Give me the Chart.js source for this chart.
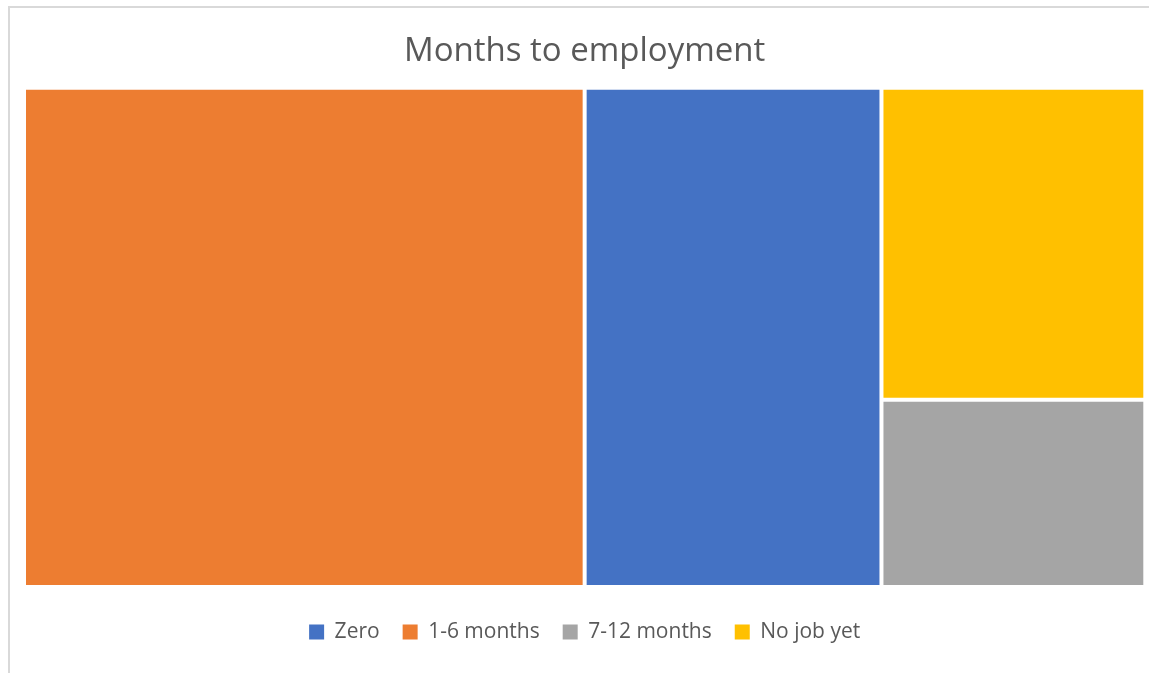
<!DOCTYPE html>
<html>
<head>
<meta charset="utf-8">
<script src="https://cdn.jsdelivr.net/npm/chart.js@4.4.1/dist/chart.umd.min.js"></script>
<style>
  html, body { margin: 0; padding: 0; background: #ffffff; overflow: hidden; }
  #wrap { position: relative; width: 1149px; height: 673px; }
</style>
</head>
<body>
<div id="wrap"><canvas id="c"></canvas></div>
<script>
// ---- data ----
const chartTitle = 'Months to employment';
const categories = ['Zero', '1-6 months', '7-12 months', 'No job yet'];
const values = [9, 17, 3, 5];
const colors = ['#4472C4', '#ED7D31', '#A5A5A5', '#FFC000'];

// ---- squarified treemap layout (in pixel space given by the scales) ----
function squarify(vals, rect) {
  const order = vals.map((v, i) => i).filter(i => vals[i] > 0).sort((a, b) => vals[b] - vals[a]);
  const total = order.reduce((s, i) => s + vals[i], 0);
  const k = rect.w * rect.h / total;
  const out = {};
  let { x, y, w, h } = rect;
  let rest = order.slice();
  function worst(row, side) {
    const s = row.reduce((a, i) => a + vals[i] * k, 0);
    const len = s / side;
    let m = 0;
    for (const i of row) {
      const other = vals[i] * k / len;
      m = Math.max(m, len / other, other / len);
    }
    return m;
  }
  while (rest.length) {
    const side = Math.min(w, h);
    const row = [rest[0]];
    let n = 1;
    while (n < rest.length && worst(row.concat(rest[n]), side) <= worst(row, side)) { row.push(rest[n]); n++; }
    rest = rest.slice(n);
    const s = row.reduce((a, i) => a + vals[i] * k, 0);
    if (w >= h) {
      const sw = s / h; let cy = y;
      for (const i of row) { const ih = vals[i] * k / sw; out[i] = { x0: x, x1: x + sw, y0: cy, y1: cy + ih }; cy += ih; }
      x += sw; w -= sw;
    } else {
      const sh = s / w; let cx = x;
      for (const i of row) { const iw = vals[i] * k / sh; out[i] = { x0: cx, x1: cx + iw, y0: y, y1: y + sh }; cx += iw; }
      y += sh; h -= sh;
    }
  }
  return out;
}

class TreemapCellController extends Chart.DatasetController {
  update(mode) {
    const meta = this._cachedMeta;
    this.updateElements(meta.data, 0, meta.data.length, mode);
  }
  updateElements(els, start, count, mode) {
    const meta = this._cachedMeta;
    const xs = meta.xScale, ys = meta.yScale;
    const left = xs.getPixelForValue(0), right = xs.getPixelForValue(1);
    const top = ys.getPixelForValue(1), bottom = ys.getPixelForValue(0);
    const vals = this.chart.data.datasets.map(d => d.data[0]);
    const rects = squarify(vals, { x: left, y: top, w: right - left, h: bottom - top });
    for (let i = start; i < start + count; i++) {
      const r = rects[this.index];
      if (!r) continue;
      const props = {
        x: (r.x0 + r.x1) / 2, y: r.y0, base: r.y1,
        width: r.x1 - r.x0, height: r.y1 - r.y0,
        horizontal: false, borderSkipped: {}, inflateAmount: 0, enableBorderRadius: false,
        options: this.resolveDataElementOptions(i, mode)
      };
      this.updateElement(els[i], i, props, mode);
    }
  }
}
TreemapCellController.id = 'treemapCell';
TreemapCellController.defaults = { datasetElementType: false, dataElementType: 'bar' };
Chart.register(TreemapCellController);

const framePlugin = {
  id: 'frame',
  beforeDraw(chart) {
    const ctx = chart.ctx;
    ctx.save();
    ctx.strokeStyle = '#d9d9d9';
    ctx.lineWidth = 2;
    ctx.strokeRect(9, 7, 1400, 1000);
    ctx.restore();
  }
};

const datasets = categories.map((c, i) => ({
  label: c,
  data: [values[i]],
  backgroundColor: colors[i],
  borderColor: '#ffffff',
  borderWidth: 2,
  borderSkipped: false,
  inflateAmount: 0
}));

new Chart(document.getElementById('c'), {
  type: 'treemapCell',
  data: { datasets },
  plugins: [framePlugin],
  options: {
    responsive: true,
    maintainAspectRatio: false,
    animation: false,
    devicePixelRatio: 1,
    events: [],
    layout: { padding: { left: 24, right: 3.7, top: 8, bottom: 20.5 } },
    scales: {
      x: {
        type: 'linear', min: 0, max: 1, display: true,
        ticks: { display: false },
        grid: { display: true, drawOnChartArea: false, drawTicks: true, tickLength: 11.5, color: 'rgba(0,0,0,0)' },
        border: { display: false }
      },
      y: { type: 'linear', min: 0, max: 1, display: false }
    },
    plugins: {
      title: {
        display: true,
        text: chartTitle,
        color: '#595959',
        font: { family: '"Open Sans", sans-serif', size: 33, weight: 'normal' },
        padding: { top: 23.5, bottom: 16.6 }
      },
      legend: {
        display: true,
        position: 'bottom',
        labels: {
          boxWidth: 15,
          boxHeight: 15,
          padding: 23,
          color: '#595959',
          font: { family: '"Open Sans", sans-serif', size: 21 },
          generateLabels: (chart) => chart.data.datasets.map((ds, i) => ({
            text: ds.label,
            fillStyle: ds.backgroundColor,
            strokeStyle: ds.backgroundColor,
            lineWidth: 0,
            fontColor: '#595959',
            hidden: !chart.isDatasetVisible(i),
            datasetIndex: i
          }))
        }
      },
      tooltip: { enabled: false }
    }
  }
});
</script>
</body>
</html>
